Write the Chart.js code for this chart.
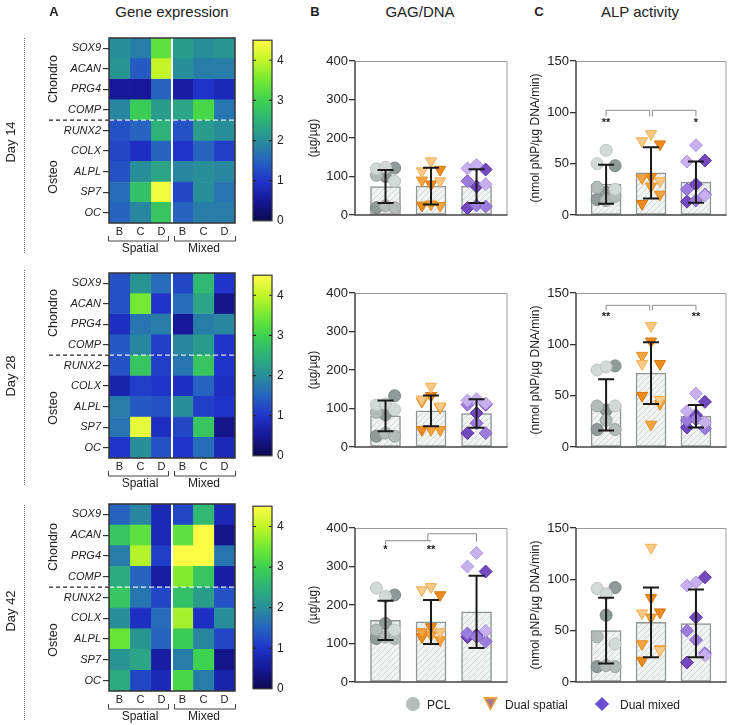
<!DOCTYPE html>
<html><head><meta charset="utf-8">
<script src="https://cdn.jsdelivr.net/npm/chart.js@4/dist/chart.umd.min.js"></script>
<style>
html,body{margin:0;padding:0;background:#fff}
body{width:734px;height:725px;position:relative;overflow:hidden;font-family:'Liberation Sans',Arial,Helvetica,sans-serif;color:#222}
canvas{position:absolute}
.t{position:absolute;white-space:nowrap;line-height:1;transform:translate(-50%,-50%)}
.r{transform:translate(-50%,-50%) rotate(-90deg)}
.dot{position:absolute;width:0;border-left:1px dotted #666}
.lt{position:absolute;white-space:nowrap;line-height:1;transform:translateY(-50%);font-size:12px}
</style></head><body>
<script>
// ---------------- DATA ----------------
const genes = ['SOX9','ACAN','PRG4','COMP','RUNX2','COLX','ALPL','SP7','OC'];
const cols = ['B','C','D','B','C','D'];
const colorTicks = [0,1,2,3,4];
const groups = ['PCL','Dual spatial','Dual mixed'];

const hmDay14 = [
 [2.0,1.8,3.3,2.2,2.0,2.1],
 [2.1,1.4,4.0,2.0,1.8,1.8],
 [0.5,0.5,1.5,0.6,1.0,0.8],
 [1.9,2.9,2.2,2.3,3.1,1.7],
 [1.3,1.5,2.5,1.3,2.2,2.0],
 [1.2,0.9,1.5,1.0,1.5,1.1],
 [1.3,2.0,2.3,1.9,2.0,1.9],
 [1.6,2.7,4.4,1.2,2.0,1.7],
 [1.5,1.9,2.8,1.5,1.8,1.8]
];
const hmDay28 = [
 [1.3,2.1,1.6,1.2,2.6,1.0],
 [1.3,3.5,1.0,1.6,2.3,0.4],
 [0.9,1.7,1.8,0.5,1.8,1.9],
 [1.4,1.9,1.1,1.9,2.2,1.0],
 [1.3,2.8,1.1,1.7,2.8,1.0],
 [0.7,1.1,1.0,0.9,1.5,0.9],
 [1.8,1.4,1.3,2.0,1.1,1.0],
 [1.7,4.3,0.9,1.2,2.8,0.4],
 [1.0,2.0,1.3,1.0,1.6,0.8]
];
const hmDay42 = [
 [1.5,1.9,0.8,1.2,2.6,0.8],
 [2.8,3.3,0.8,3.3,4.5,0.4],
 [1.8,3.9,1.1,4.5,4.5,1.7],
 [2.4,1.5,0.6,3.6,2.8,0.6],
 [2.8,1.7,1.2,2.7,2.2,1.3],
 [2.0,0.9,1.6,3.8,0.9,2.0],
 [3.4,2.1,1.5,2.9,1.9,1.2],
 [2.1,2.3,0.6,1.8,3.0,0.4],
 [2.4,1.2,0.8,3.1,1.8,0.7]
];

// GAG/DNA (µg/µg)
const gag14Mean = [74,75,75];
const gag14Sd = [43,48,44];
const gag14Pcl = [120,124,122, 103,100,88, 19,24,19];
const gag14Spatial = [114,140,118, 90,80,88, 25,28,24];
const gag14Mixed = [121,130,118, 88,74,80, 18,25,22];

const gag28Mean = [81,94,87];
const gag28Sd = [40,40,37];
const gag28Pcl = [109,112,133, 90,84,97, 28,36,28];
const gag28Spatial = [124,157,103, 118,133,106, 45,45,45];
const gag28Mixed = [121,124,110, 110,88,113, 36,62,36];

const gag42Mean = [160,156,182];
const gag42Sd = [51,57,94];
const gag42Pcl = [244,222,226, 135,152,135, 113,117,113];
const gag42Spatial = [239,247,226, 130,143,130, 117,122,109];
const gag42Mixed = [300,335,287, 126,122,133, 117,117,105];

// ALP activity (nmol pNP/µg DNA/min)
const alp14Mean = [30,41,32];
const alp14Sd = [19,25,20];
const alp14Pcl = [50,63,48, 27,22,25, 15,14,18];
const alp14Spatial = [72,79,69, 36,37,33, 11,28,20];
const alp14Mixed = [52,68,53, 25,30,19, 13,14,20];

const alp28Mean = [41,72,30];
const alp28Sd = [25,30,11];
const alp28Pcl = [75,78,79, 40,36,40, 17,26,17];
const alp28Spatial = [81,118,81, 89,103,46, 50,22,42];
const alp28Mixed = [35,52,44, 26,31,24, 19,27,18];

const alp42Mean = [50,58,57];
const alp42Sd = [32,34,33];
const alp42Pcl = [91,86,92, 44,65,37, 15,16,15];
const alp42Spatial = [67,131,68, 37,82,31, 21,63,32];
const alp42Mixed = [94,97,102, 50,63,26, 19,41,28];

// significance brackets [x1, x2, y, dropLeft, dropRight] and stars [x, y, text]
const sigAlp14Brackets = [[1,1.97,102,96,96],[2.03,3,102,96,96]];
const sigAlp14Stars = [[1,90,'**'],[3,90,'*']];
const sigAlp28Brackets = [[1,1.97,138,133,133],[2.03,3,138,133,133]];
const sigAlp28Stars = [[1,127,'**'],[3,127,'**']];
const sigGag42Brackets = [[1,2,367,357,367],[1.93,3,385,367,365]];
const sigGag42Stars = [[1,343,'*'],[2,343,'**']];

// ---------------- STYLE ----------------
Chart.defaults.font.family = "'Liberation Sans', Arial, Helvetica, sans-serif";
Chart.defaults.color = '#222';

const cmapStops = [[0,[12,10,78]],[0.5,[22,24,152]],[1,[32,52,202]],[1.5,[38,100,192]],[2,[40,142,152]],[2.5,[46,178,122]],[3,[62,210,80]],[3.5,[115,233,50]],[4,[196,245,40]],[4.5,[252,252,70]]];
function cmap(v){
  v=Math.max(0,Math.min(4.5,v));
  for(let i=1;i<cmapStops.length;i++){
    const [a,ca]=cmapStops[i-1],[b,cb]=cmapStops[i];
    if(v<=b){const t=(v-a)/(b-a);const c=ca.map((x,k)=>Math.round(x+(cb[k]-x)*t));return `rgb(${c[0]},${c[1]},${c[2]})`;}
  }
  return 'rgb(252,252,70)';
}

function mkCanvas(left,top,w,h){
  const c=document.createElement('canvas');
  c.width=w;c.height=h;c.style.left=left+'px';c.style.top=top+'px';
  c.style.width=w+'px';c.style.height=h+'px';
  document.body.appendChild(c);return c;
}
function txt(s,x,y,size,extra){
  const d=document.createElement('div');d.className='t'+(extra&&extra.rot?' r':'');
  d.textContent=s;d.style.left=x+'px';d.style.top=y+'px';d.style.fontSize=size+'px';
  if(extra&&extra.bold)d.style.fontWeight='bold';
  document.body.appendChild(d);
}
const base = {animation:false,responsive:false,devicePixelRatio:1,events:[],plugins:{legend:{display:false},tooltip:{enabled:false}}};

// ---------------- HEATMAPS ----------------
const heatDeco = {id:'heatDeco',afterDatasetsDraw(chart){
  const {ctx,chartArea:a,scales:{x,y}}=chart;
  ctx.save();
  const xm=x.getPixelForValue(3);
  ctx.strokeStyle='#fff';ctx.lineWidth=2;ctx.beginPath();ctx.moveTo(xm,a.top);ctx.lineTo(xm,a.bottom);ctx.stroke();
  const yd=(y.getPixelForValue(3)+y.getPixelForValue(4))/2;
  ctx.setLineDash([4,3]);ctx.lineWidth=1.3;ctx.strokeStyle='#222';
  ctx.beginPath();ctx.moveTo(49,yd);ctx.lineTo(a.left,yd);ctx.stroke();
  ctx.strokeStyle='rgba(255,255,255,0.85)';ctx.setLineDash([5,3]);
  ctx.beginPath();ctx.moveTo(a.left,yd);ctx.lineTo(a.right,yd);ctx.stroke();
  ctx.setLineDash([]);
  ctx.strokeStyle='#333';ctx.lineWidth=1.5;ctx.strokeRect(a.left,a.top,a.right-a.left,a.bottom-a.top);
  // brackets
  ctx.strokeStyle='#444';ctx.lineWidth=1;
  const b1=a.bottom+13,b2=a.bottom+18;
  [[a.left-1,xm-3],[xm+2,a.right+1]].forEach(([l,r])=>{
    ctx.beginPath();ctx.moveTo(l+0.5,b1);ctx.lineTo(l+0.5,b2);ctx.lineTo(r-0.5,b2);ctx.lineTo(r-0.5,b1);ctx.stroke();
  });
  ctx.restore();
}};

function heatmap(top,h,data){
  const cv=mkCanvas(0,top-10,245,h+10+18+14);
  new Chart(cv,{type:'bar',
    data:{labels:genes,datasets:cols.map((c,j)=>({
      data:genes.map(()=>1),
      backgroundColor:genes.map((g,i)=>cmap(data[i][j])),
      borderColor:genes.map((g,i)=>cmap(data[i][j])),
      borderWidth:0.6,borderSkipped:false,barPercentage:1,categoryPercentage:1}))},
    options:{...base,indexAxis:'y',layout:{padding:{top:10,right:10,bottom:14,left:0}},
      scales:{
        x:{type:'linear',stacked:true,min:0,max:6,offset:false,
          afterFit:s=>{s.height=18;},
          afterBuildTicks:s=>{s.ticks=cols.map((c,i)=>({value:i+0.5}));},
          ticks:{callback:(v,i)=>cols[i],autoSkip:false,maxRotation:0,padding:2,font:{size:11},color:'#222'},
          grid:{display:false,drawTicks:false,tickLength:0},border:{display:false}},
        y:{stacked:true,afterFit:s=>{s.width=109;},
          ticks:{font:{size:11,style:'italic'},color:'#222',padding:2,autoSkip:false},
          grid:{drawOnChartArea:false,offset:false,tickLength:6,color:'#333',lineWidth:1.2},
          border:{display:false}}
      }},
    plugins:[heatDeco]});
}

const cbDeco={id:'cbDeco',afterDatasetsDraw(chart){
  const {ctx,chartArea:a,scales:{y}}=chart;
  ctx.save();ctx.strokeStyle='#222';ctx.lineWidth=1.2;
  colorTicks.forEach(v=>{const p=y.getPixelForValue(v);
    if(v===0)return;
    ctx.beginPath();ctx.moveTo(a.left,p);ctx.lineTo(a.left+3,p);ctx.moveTo(a.right-3,p);ctx.lineTo(a.right,p);ctx.stroke();});
  ctx.strokeStyle='#333';ctx.lineWidth=1.2;ctx.strokeRect(a.left,a.top,a.right-a.left,a.bottom-a.top);
  ctx.restore();
}};
function colorbar(top,h){
  const cv=mkCanvas(245,top-10,45,h+20);
  new Chart(cv,{type:'bar',
    data:{labels:[''],datasets:[{data:[4.5],barPercentage:1,categoryPercentage:1,borderWidth:0,
      backgroundColor:(c)=>{const a=c.chart.chartArea;if(!a)return '#000';
        const g=c.chart.ctx.createLinearGradient(0,a.bottom,0,a.top);
        cmapStops.forEach(([v])=>g.addColorStop(v/4.5,cmap(v)));return g;}}]},
    options:{...base,layout:{padding:{top:10,bottom:10,left:8,right:0}},
      scales:{x:{display:false,offset:true},
        y:{position:'right',min:0,max:4.5,afterFit:s=>{s.width=18;},
          afterBuildTicks:s=>{s.ticks=colorTicks.map(v=>({value:v}));},
          ticks:{padding:5,font:{size:12},color:'#222'},grid:{display:false,drawTicks:false,tickLength:0},border:{display:false}}}},
    plugins:[cbDeco]});
}

// ---------------- DOT + BAR CHARTS ----------------
function makeHatch(){
  const c=document.createElement('canvas');c.width=6;c.height=6;const x=c.getContext('2d');
  x.fillStyle='#f2f4f3';x.fillRect(0,0,6,6);
  x.strokeStyle='#d2d7d5';x.lineWidth=1;x.beginPath();
  x.moveTo(0,6);x.lineTo(6,0);x.moveTo(-1,1);x.lineTo(1,-1);x.moveTo(5,7);x.lineTo(7,5);x.stroke();
  return x.createPattern(c,'repeat');
}
const hatch=makeHatch();
const jit=[-0.2,0,0.2];
const shadeIdx=[0,0,2, 1,2,0, 2,1,1];
const ptStyles=['circle','triangle','rectRot'];
const ptRot=[0,180,0];
const ptRad=[6,6.5,6.5];
const fills=[['#d3d9d7','#b4bcba','#909a98'],['#f9c987','#f3a440','#ec8b1e'],['#c6b0ee','#9d7ddb','#7449bd']];
const strokes=[['#bcc3c1','#9da6a4','#7b8684'],['#f0ae55','#e68d1e','#d6760b'],['#b099e4','#8866cf','#5d35a6']];

const frameDeco={id:'frameDeco',afterDatasetsDraw(chart){
  const {ctx,chartArea:a,scales:{x,y}}=chart;
  const ds=chart.config._config.extra;
  ctx.save();
  // error bars
  ctx.strokeStyle='#1a1a1a';ctx.lineWidth=2;
  ds.mean.forEach((m,i)=>{
    const px=x.getPixelForValue(i+1),t=y.getPixelForValue(m+ds.sd[i]),b=y.getPixelForValue(m-ds.sd[i]);
    ctx.beginPath();ctx.moveTo(px,t);ctx.lineTo(px,b);
    ctx.moveTo(px-8,t);ctx.lineTo(px+8,t);ctx.moveTo(px-8,b);ctx.lineTo(px+8,b);ctx.stroke();
  });
  // significance
  ctx.strokeStyle='#8a8a8a';ctx.lineWidth=1;
  (ds.brackets||[]).forEach(([x1,x2,yv,d1,d2])=>{
    const p1=x.getPixelForValue(x1),p2=x.getPixelForValue(x2),py=y.getPixelForValue(yv);
    ctx.beginPath();ctx.moveTo(p1,y.getPixelForValue(d1));ctx.lineTo(p1,py);ctx.lineTo(p2,py);ctx.lineTo(p2,y.getPixelForValue(d2));ctx.stroke();
  });
  ctx.fillStyle='#222';ctx.font='bold 11px "Liberation Sans", Arial';ctx.textAlign='center';ctx.textBaseline='middle';
  (ds.stars||[]).forEach(([xv,yv,s])=>{ctx.fillText(s,x.getPixelForValue(xv),y.getPixelForValue(yv));});
  // frame
  ctx.strokeStyle='#9a9a9a';ctx.lineWidth=1;
  ctx.beginPath();ctx.moveTo(a.left,a.top+0.5);ctx.lineTo(a.right-0.5,a.top+0.5);ctx.lineTo(a.right-0.5,a.bottom);ctx.stroke();
  ctx.strokeStyle='#444';ctx.lineWidth=1.5;
  ctx.beginPath();ctx.moveTo(a.left,a.top);ctx.lineTo(a.left,a.bottom);ctx.lineTo(a.right,a.bottom);ctx.stroke();
  ctx.restore();
}};

function dotBar(left,top,width,padRight,axisW,titleText,titlePad,yMax,yStep,mean,sd,pts,brackets,stars){
  const H=154;
  const cv=mkCanvas(left,top-10,width,H+20);
  const datasets=[{type:'bar',data:mean.map((m,i)=>({x:i+1,y:m})),backgroundColor:hatch,
    borderColor:'#8e9694',borderWidth:1.5,barThickness:30,borderSkipped:false,order:3}];
  groups.forEach((gname,g)=>{
    [0,1,2].forEach(s=>{
      const data=[];
      pts[g].forEach((v,k)=>{if(shadeIdx[k]===s)data.push({x:g+1+jit[k%3],y:v});});
      datasets.push({type:'scatter',data,order:1,showLine:false,
        pointStyle:ptStyles[g],pointRotation:ptRot[g],pointRadius:ptRad[g],
        pointBackgroundColor:fills[g][s],pointBorderColor:strokes[g][s],pointBorderWidth:1,
        backgroundColor:fills[g][s],borderColor:strokes[g][s]});
    });
  });
  new Chart(cv,{type:'bar',data:{datasets},
    extra:{mean,sd,brackets,stars},
    options:{...base,layout:{padding:{top:10,bottom:10,left:0,right:padRight}},
      scales:{
        x:{type:'linear',min:0.33,max:3.68,offset:false,display:false},
        y:{min:0,max:yMax,afterFit:s=>{s.width=axisW;},
          ticks:{stepSize:yStep,font:{size:13},color:'#222',padding:1},
          grid:{drawOnChartArea:false,tickLength:6,color:'#333',lineWidth:1.3},
          border:{display:false},
          title:{display:true,text:titleText,font:{size:12},color:'#222',padding:{top:titlePad,bottom:0}}}
      }},
    plugins:[frameDeco]});
}

// ---------------- BUILD ----------------
const rows=[
  {day:'Day 14',hmTop:38,hmH:185,hm:hmDay14,plotTop:61,dotTop:38,dotBot:253,dayY:142,chY:79,osY:177,
   gag:[gag14Mean,gag14Sd,[gag14Pcl,gag14Spatial,gag14Mixed],[],[]],
   alp:[alp14Mean,alp14Sd,[alp14Pcl,alp14Spatial,alp14Mixed],sigAlp14Brackets,sigAlp14Stars]},
  {day:'Day 28',hmTop:273,hmH:185,hm:hmDay28,plotTop:293,dotTop:270,dotBot:485,dayY:376,chY:313,osY:408,
   gag:[gag28Mean,gag28Sd,[gag28Pcl,gag28Spatial,gag28Mixed],[],[]],
   alp:[alp28Mean,alp28Sd,[alp28Pcl,alp28Spatial,alp28Mixed],sigAlp28Brackets,sigAlp28Stars]},
  {day:'Day 42',hmTop:504,hmH:187,hm:hmDay42,plotTop:528,dotTop:505,dotBot:720,dayY:611,chY:547,osY:640,
   gag:[gag42Mean,gag42Sd,[gag42Pcl,gag42Spatial,gag42Mixed],sigGag42Brackets,sigGag42Stars],
   alp:[alp42Mean,alp42Sd,[alp42Pcl,alp42Spatial,alp42Mixed],[],[]]}
];

rows.forEach(r=>{
  heatmap(r.hmTop,r.hmH,r.hm);
  colorbar(r.hmTop,r.hmH);
  dotBar(300,r.plotTop,215,6,55,'(µg/µg)',6,400,100,...r.gag);
  dotBar(520,r.plotTop,214,3,56,'(nmol pNP/µg DNA/min)',8,150,50,...r.alp);
  txt(r.day,10,r.dayY,13,{rot:true});
  txt('Chondro',53,r.chY,12.5,{rot:true});
  txt('Osteo',53,r.osY,12.5,{rot:true});
  const bot=r.hmTop+r.hmH;
  txt('Spatial',140,bot+25,12);
  txt('Mixed',204,bot+25,12);
  const d=document.createElement('div');d.className='dot';d.style.left='24px';d.style.top=r.dotTop+'px';d.style.height=(r.dotBot-r.dotTop)+'px';document.body.appendChild(d);
});

txt('A',54,11,13,{bold:true});
txt('Gene expression',172,11,15);
txt('B',315,11,13,{bold:true});
txt('GAG/DNA',420,11,15);
txt('C',539,11,13,{bold:true});
txt('ALP activity',640,11,15);

// legend
function mk(style){const d=document.createElement('div');d.style.position='absolute';Object.assign(d.style,style);document.body.appendChild(d);return d;}
mk({left:'406px',top:'697px',width:'14px',height:'14px',borderRadius:'50%',background:'#b5bcba'});
mk({left:'483px',top:'697px',width:'15px',height:'14px',background:'#f0a33c',clipPath:'polygon(0 0,100% 0,50% 100%)'});
mk({left:'486px',top:'699px',width:'9px',height:'9px',background:'#a4788a',clipPath:'polygon(0 0,100% 0,50% 100%)'});
mk({left:'597px',top:'699px',width:'10px',height:'10px',background:'#6a4fd0',transform:'rotate(45deg)'});
[['PCL',427],['Dual spatial',505],['Dual mixed',620]].forEach(([s,x])=>{
  const d=document.createElement('div');d.className='lt';d.textContent=s;d.style.left=x+'px';d.style.top='705px';document.body.appendChild(d);
});
</script>
</body></html>
